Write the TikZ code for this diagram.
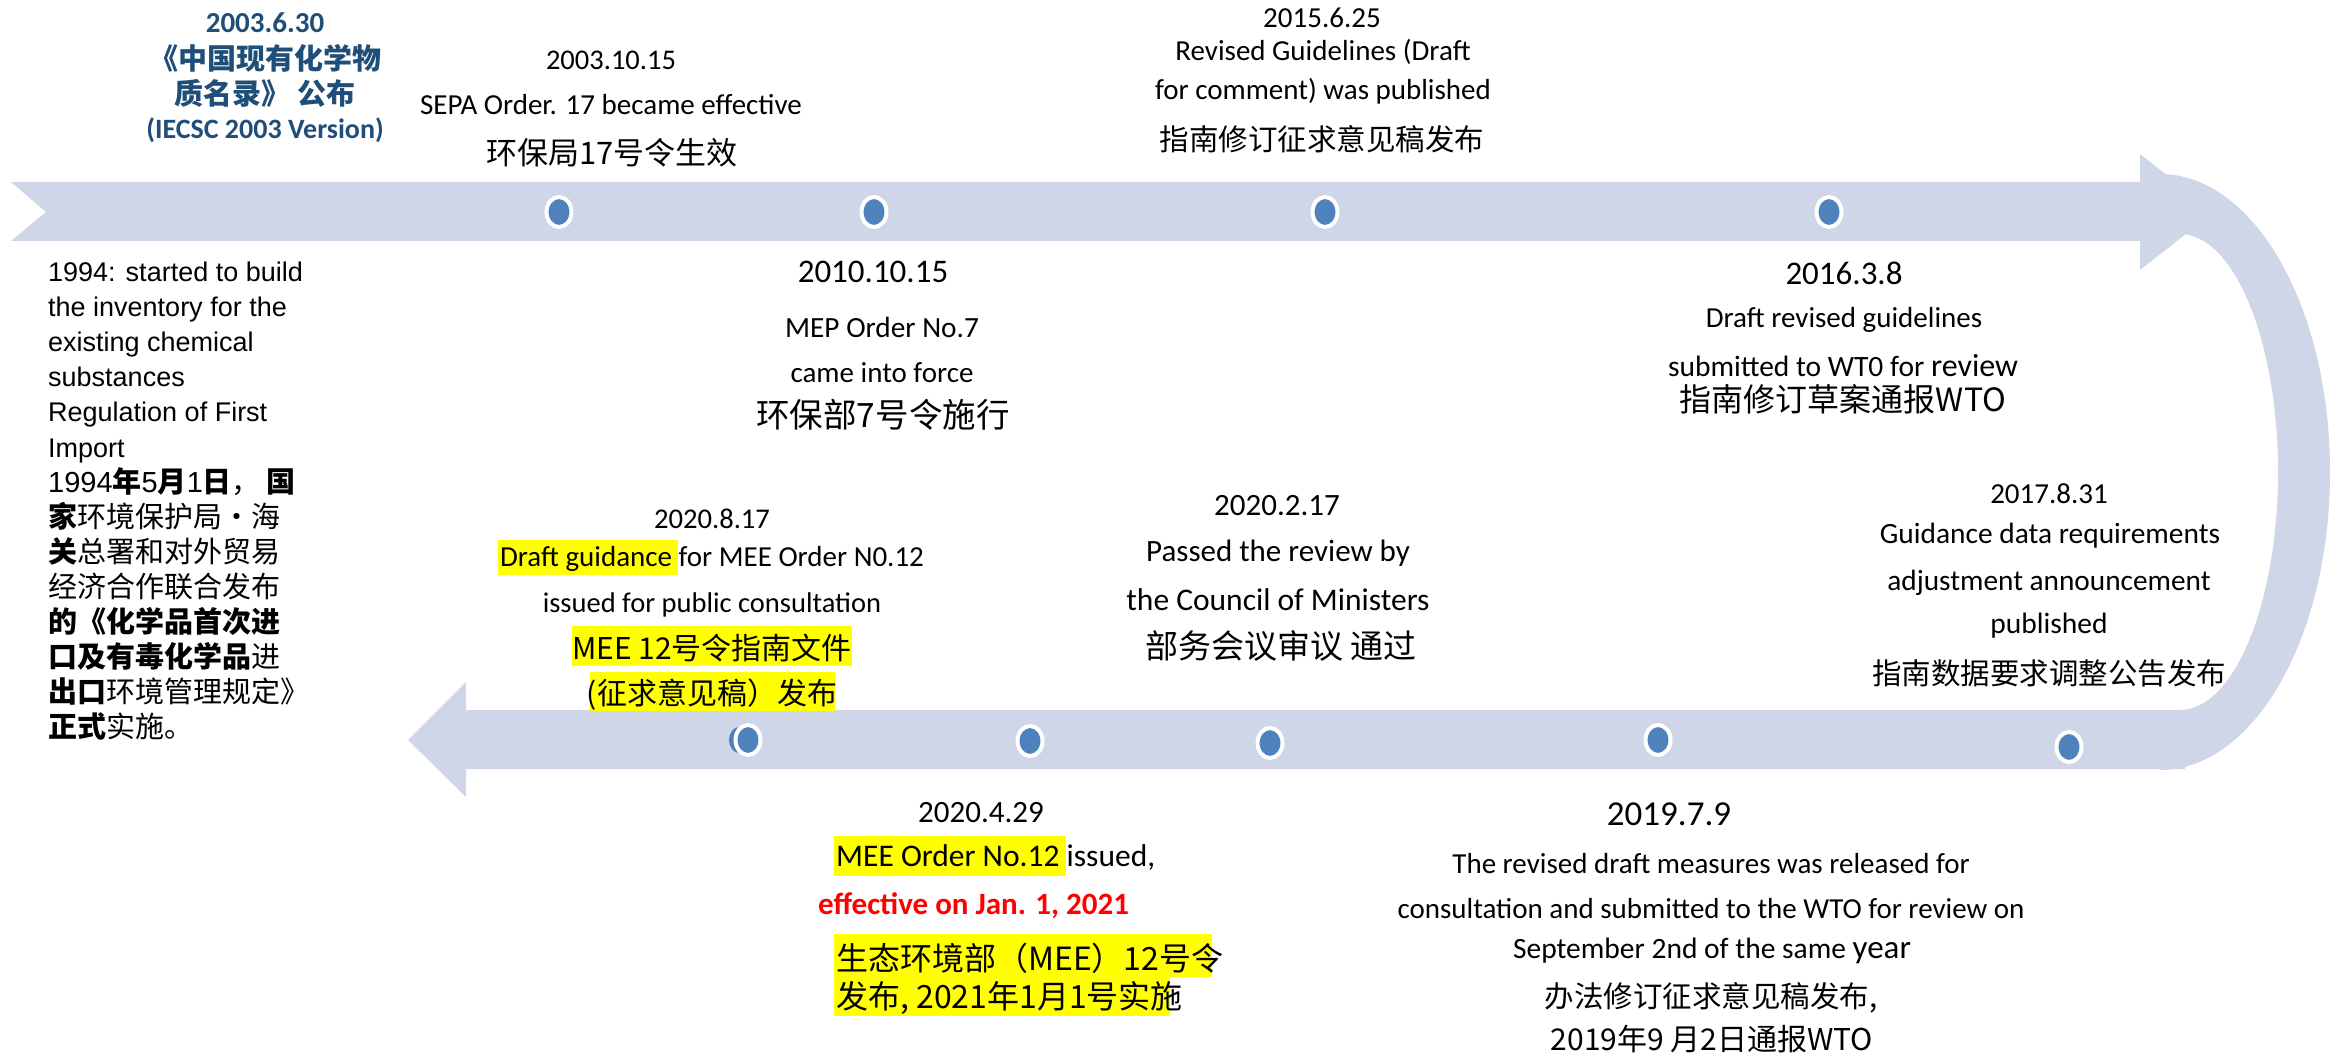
\documentclass[tikz,border=0pt]{standalone}
\usepackage{fontspec}
\setmainfont{Carlito}
\newfontfamily\cjk{Noto Sans CJK SC}
\newfontfamily\latleft{Liberation Sans}
\usetikzlibrary{shapes.geometric}
\definecolor{band}{RGB}{207,214,232}
\definecolor{dotblue}{RGB}{79,129,189}
\definecolor{titleblue}{RGB}{31,78,121}
\definecolor{hl}{RGB}{255,255,0}
\definecolor{redtxt}{RGB}{255,0,0}
\newcommand\myfs[1]{\fontsize{#1}{#1}\selectfont}
\begin{document}
\begin{tikzpicture}[x=1pt,y=-1pt,
 lbl/.style={inner sep=0pt, anchor=base, text=black},
 lbll/.style={inner sep=0pt, anchor=base west, text=black},
 dotnode/.style={ellipse, draw=white, line width=4pt, fill=dotblue, minimum width=25pt, minimum height=30pt, inner sep=0pt},
 hlbox/.style={fill=hl, draw=none},
 bandfill/.style={fill=band, draw=none}]
\useasboundingbox (0,0) rectangle (2346,1056);
\fill[white] (0,0) rectangle (2346,1056);
% bands
\fill[bandfill] (11,182) -- (2140,182) -- (2140,154) -- (2214,212) -- (2140,270) -- (2140,241) -- (11,241) -- (46,212) -- cycle;
\fill[bandfill] (2160,174) .. controls (2254,174) and (2330,307) .. (2330,472) .. controls (2330,637) and (2254,770) .. (2160,770) -- (2180,710) .. controls (2234,710) and (2278,603) .. (2278,472) .. controls (2278,341) and (2234,234) .. (2180,234) -- cycle;
\fill[bandfill] (2185,710) -- (466,710) -- (466,682) -- (408,740) -- (466,797) -- (466,769) -- (2185,769) -- cycle;
% dots
\node[dotnode] (dot1) at (559,212) {};
\node[dotnode] (dot2) at (874,212) {};
\node[dotnode] (dot3) at (1325,212) {};
\node[dotnode] (dot4) at (1829,212) {};
\fill[dotblue] (739,740) ellipse [x radius=10, y radius=13];
\node[dotnode] (dot5) at (748,740) {};
\node[dotnode] (dot6) at (1030,741) {};
\node[dotnode] (dot7) at (1270,743) {};
\node[dotnode] (dot8) at (1658,740) {};
\node[dotnode] (dot9) at (2069,747) {};
% highlights
\fill[hlbox] (498,540) rectangle (678,575);
\fill[hlbox] (572,626) rectangle (852,666);
\fill[hlbox] (590,672) rectangle (835,711);
\fill[hlbox] (834,836) rectangle (1066,876);
\fill[hlbox] (834,934) rectangle (1212,977);
\fill[hlbox] (834,977) rectangle (1170,1016);
% block A
\node[lbl, text=titleblue, font=\bfseries\myfs{29}] (a1) at (265,33) {2003.6.30};
\node[lbl, text=titleblue, font=\cjk\bfseries\myfs{29}] (a2) at (265,70) {《中国现有化学物};
\node[lbl, text=titleblue, font=\cjk\bfseries\myfs{29}] (a3) at (265,105) {质名录》 公布};
\node[lbl, text=titleblue, font=\bfseries\myfs{28}] (a4) at (265,139) {(IECSC 2003 Version)};
% block B
\node[lbl, font=\myfs{28.5}] (b1) at (611,70) {2003.10.15};
\node[lbl, font=\myfs{29}] (b2) at (611,115) {SEPA Order. 17 became effective};
\node[lbl, font=\cjk\myfs{31}] (b3) at (612,165) {环保局17号令生效};
% block C
\node[lbl, font=\myfs{29}] (c1) at (1322,28) {2015.6.25};
\node[lbl, font=\myfs{29}] (c2) at (1323,61) {Revised Guidelines (Draft};
\node[lbl, font=\myfs{29}] (c3) at (1323,100) {for comment) was published};
\node[lbl, font=\cjk\myfs{29.5}] (c4) at (1322,151) {指南修订征求意见稿发布};
% block D
\node[lbl, font=\myfs{33}] (d1) at (1844,285) {2016.3.8};
\node[lbl, font=\myfs{29}] (d2) at (1844,328) {Draft revised guidelines};
\node[lbl, font=\myfs{29.5}] (d3) at (1843,377) {submitted to WT0 for {\myfs{32}review}};
\node[lbl, font=\cjk\myfs{32}] (d4) at (1843,412) {指南修订草案通报WTO};
% block E
\node[lbl, font=\myfs{33}] (e1) at (873,283) {2010.10.15};
\node[lbl, font=\myfs{29.3}] (e2) at (882,338) {MEP Order No.7};
\node[lbl, font=\myfs{29}] (e3) at (882,383) {came into force};
\node[lbl, font=\cjk\myfs{33.5}] (e4) at (883,428) {环保部7号令施行};
% block F
\node[lbl, font=\myfs{28.6}] (f1) at (712,528) {2020.8.17};
\node[lbl, font=\myfs{29}] (f2) at (712,566) {Draft guidance for MEE Order N0.12};
\node[lbl, font=\myfs{28.5}] (f3) at (712,612) {issued for public consultation};
\node[lbl, font=\cjk\myfs{30}] (f4) at (712,659) {MEE 12号令指南文件};
\node[lbl, font=\cjk\myfs{30}] (f5) at (712,704) {(征求意见稿）发布};
% block G
\node[lbl, font=\myfs{31}] (g1) at (1277,515) {2020.2.17};
\node[lbl, font=\myfs{31}] (g2) at (1278,561) {Passed the review by};
\node[lbl, font=\myfs{31.5}] (g3) at (1278,610) {the Council of Ministers};
\node[lbl, font=\cjk\myfs{33}] (g4) at (1281,658) {部务会议审议 通过};
% block H
\node[lbl, font=\myfs{29}] (h1) at (2049,503) {2017.8.31};
\node[lbl, font=\myfs{29.4}] (h2) at (2050,543) {Guidance data requirements};
\node[lbl, font=\myfs{29.3}] (h3) at (2049,590) {adjustment announcement};
\node[lbl, font=\myfs{29.5}] (h4) at (2049,633) {published};
\node[lbl, font=\cjk\myfs{29.5}] (h5) at (2049,684) {指南数据要求调整公告发布};
% block I
\node[lbl, font=\myfs{31}] (i1) at (981,822) {2020.4.29};
\node[lbll, font=\myfs{31.5}] (i2) at (836,866) {MEE Order No.12 issued,};
\node[lbll, text=redtxt, font=\bfseries\myfs{31}] (i3) at (818,914) {effective on Jan. 1, 2021};
\node[lbll, font=\cjk\myfs{32}] (i4) at (836,970) {生态环境部（MEE）12号令};
\node[lbll, font=\cjk\myfs{32}] (i5) at (836,1008) {发布, 2021年1月1号实施};
% block J
\node[lbl, font=\myfs{35}] (j1) at (1669,825) {2019.7.9};
\node[lbl, font=\myfs{29}] (j2) at (1711,873) {The revised draft measures was released for};
\node[lbl, font=\myfs{29}] (j3) at (1711,918) {consultation and submitted to the WTO for review on};
\node[lbl, font=\myfs{29.5}] (j4) at (1712,958) {September 2nd of the same {\myfs{33}year}};
\node[lbl, font=\cjk\myfs{29.5}] (j5) at (1711,1007) {办法修订征求意见稿发布,};
\node[lbl, font=\cjk\myfs{30}] (j6) at (1712,1050) {2019年9 月2日通报WTO};
% block K (left)
\begin{scope}[every node/.style={lbll, font=\cjk\myfs{29}}]
\node[font=\latleft\myfs{27}] (k1) at (48,282) {1994: started to build};
\node[font=\latleft\myfs{27}] (k2) at (48,317) {the inventory for the};
\node[font=\latleft\myfs{27}] (k3) at (48,352) {existing chemical};
\node[font=\latleft\myfs{27}] (k4) at (48,387) {substances};
\node[font=\latleft\myfs{27}] (k5) at (48,422) {Regulation of First};
\node[font=\latleft\myfs{27}] (k6) at (48,457) {Import};
\node (k7) at (48,492) {{\latleft 1994}{\bfseries 年}{\latleft 5}{\bfseries 月}{\latleft 1}{\bfseries 日}，\hspace{6pt}{\bfseries 国}};
\node (k8) at (48,527) {{\bfseries 家}环境保护局・海};
\node (k9) at (48,562) {{\bfseries 关}总署和对外贸易};
\node (k10) at (48,597) {经济合作联合发布};
\node (k11) at (48,632) {{\bfseries 的《化学品首次进}};
\node (k12) at (48,667) {{\bfseries 口及有毒化学品}进};
\node (k13) at (48,702) {{\bfseries 出口}环境管理规定》};
\node (k14) at (48,737) {{\bfseries 正式}实施。};
\end{scope}
\end{tikzpicture}
\end{document}
